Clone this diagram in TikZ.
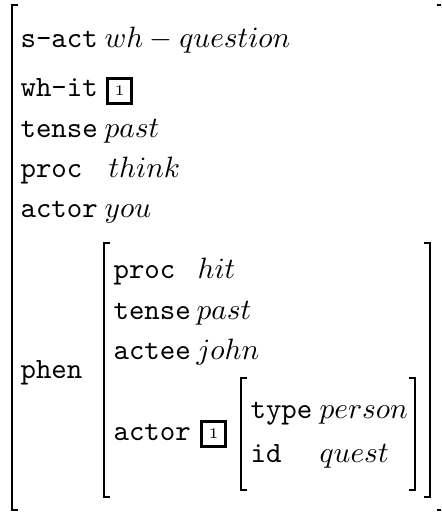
\documentclass[tikz,border=0pt]{standalone}
\usepackage{amsmath,amssymb}
\usepackage{tikz}

\begin{document}
\begin{tikzpicture}[x=0.34pt,y=-0.34pt,
  attr/.style={anchor=base west,inner sep=0pt,font=\ttfamily},
  val/.style={anchor=base west,inner sep=0pt},
  tagbox/.style={draw,line width=1pt,inner sep=0pt,minimum width=8.2pt,minimum height=8.6pt,font=\tiny},
  brk/.style={line width=0.7pt}]
\clip (0,0) rectangle (441,516);

% Outer feature structure
\node[attr] (sact) at (20,48) {s-act};
\node[val] (sactv) at (104,48) {$wh-question$};
\node[attr] (whit) at (20,97) {wh-it};
\node[tagbox,anchor=south west] (tagA) at (106,105) {1};
\node[attr] (tense) at (20,138) {tense};
\node[val] (tensev) at (104,138) {$past$};
\node[attr] (proc) at (20,178) {proc};
\node[val] (procv) at (108,178) {$think$};
\node[attr] (actor) at (20,218) {actor};
\node[val] (actorv) at (104,218) {$you$};
\node[attr] (phen) at (20,378) {phen};

% Embedded phenomenon
\node[attr] (iproc) at (113,279) {proc};
\node[val] (iprocv) at (197,279) {$hit$};
\node[attr] (itense) at (113,319) {tense};
\node[val] (itensev) at (196,319) {$past$};
\node[attr] (iactee) at (113,359) {actee};
\node[val] (iacteev) at (196,359) {$john$};
\node[attr] (iactor) at (113,440) {actor};
\node[tagbox,anchor=south west] (tagB) at (200,448) {1};

% Actor value
\node[attr] (type) at (250,418) {type};
\node[val] (typev) at (319,418) {$person$};
\node[attr] (id) at (250,462) {id};
\node[val] (idv) at (319,462) {$quest$};

% Brackets
\draw[brk] (18,5) -- (12,5) -- (12,510) -- (18,510);
\draw[brk] (437,5) -- (443,5) -- (443,510) -- (437,510);
\draw[brk] (110,243) -- (104,243) -- (104,497) -- (110,497);
\draw[brk] (424,243) -- (430,243) -- (430,497) -- (424,497);
\draw[brk] (247,378) -- (241,378) -- (241,490) -- (247,490);
\draw[brk] (409,378) -- (415,378) -- (415,490) -- (409,490);
\end{tikzpicture}
\end{document}
